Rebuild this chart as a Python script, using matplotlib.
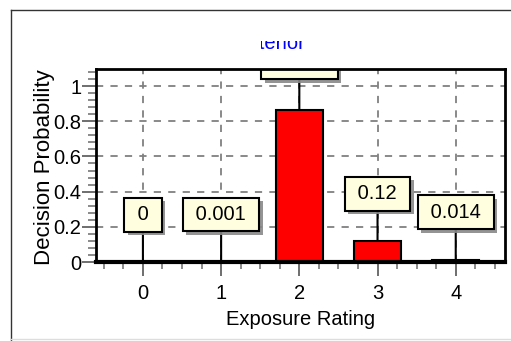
import numpy as np
import matplotlib
matplotlib.use("Agg")
import matplotlib.pyplot as plt
import matplotlib.patheffects as pe
from matplotlib.patches import Rectangle
from matplotlib.lines import Line2D

plt.rcParams["font.family"] = ["Liberation Sans", "DejaVu Sans"]

ratings = [0, 1, 2, 3, 4]
probs = [0.0, 0.001, 0.865, 0.12, 0.014]
prob_labels = ["0", "0.001", "0.865", "0.12", "0.014"]
ytick_vals = [0, 0.2, 0.4, 0.6, 0.8, 1.0]
ytick_labels = ["0", "0.2", "0.4", "0.6", "0.8", "1"]
title = "Posterior"

W, H = 511, 341
fig = plt.figure(figsize=(W / 100, H / 100), dpi=100)
ax = fig.add_axes([96 / W, (H - 262) / H, 409 / W, 193 / H])

# Bars (near-zero bars only show their red fill line)
edges = ["red" if p < 0.005 else "black" for p in probs]
ax.bar(ratings, probs, width=0.6, color="#ff0000", edgecolor=edges,
       linewidth=1.5, zorder=3)

# Value call-outs with a leader line and drop shadow
for x, p, lab in zip(ratings, probs, prob_labels):
    t = ax.annotate(" " + lab + " ", xy=(x, p), xytext=(x, p + 0.215),
                    ha="center", va="bottom", fontsize=14.5, zorder=5,
                    bbox=dict(boxstyle="square,pad=0.37", fc="#ffffe0",
                              ec="black", lw=1.5),
                    arrowprops=dict(arrowstyle="-", color="black", lw=1.5,
                                    shrinkA=0, shrinkB=0))
    t.set_clip_on(True)
    t.set_clip_box(ax.bbox)
    t.get_bbox_patch().set_path_effects(
        [pe.SimplePatchShadow(offset=(2.5, -2.5), shadow_rgbFace="#888888",
                              alpha=0.9), pe.Normal()])

ax.set_xlim(-0.6, 4.63)
ax.set_ylim(0, 1.097)
ax.set_xticks(ratings)
ax.set_xticks(np.arange(-0.5, 4.6, 0.25), minor=True)
ax.set_yticks(ytick_vals)
ax.set_yticklabels(ytick_labels)
ax.set_yticks(np.arange(0, 1.1, 0.04), minor=True)

ax.tick_params(axis="both", which="major", labelsize=14.5, length=10,
               width=1.2, color="#555555", direction="out")
ax.tick_params(axis="y", which="major", pad=0.5)
ax.tick_params(axis="x", which="major", pad=6)
ax.tick_params(axis="y", which="minor", length=6, width=1.2, color="#777777")
ax.tick_params(axis="x", which="minor", length=5, width=1.2, color="#777777")

ax.grid(True, which="major", color="#808080", linestyle=(0, (4, 4)),
        linewidth=1.3, zorder=0)
ax.set_axisbelow(True)
for s in ax.spines.values():
    s.set_linewidth(2)
    s.set_zorder(6)
ax.spines["bottom"].set_linewidth(3)

ax.set_xlabel("Exposure Rating", fontsize=14.5, labelpad=5)
ax.set_ylabel("Decision Probability", fontsize=16)
ax.yaxis.set_label_coords(-41 / 409, 0.49)

# Partly hidden title
tt = fig.text(265 / W, (H - 49) / H, title, color="#0000ff", fontsize=14.5,
              ha="center", va="baseline")
clip = Rectangle((261 / W, (H - 51) / H), 60 / W, 10.5 / H,
                 transform=fig.transFigure)
tt.set_clip_path(clip)

# Outer frame
fig.add_artist(Line2D([10.5 / W, 10.5 / W], [0, (H - 9.5) / H],
                      transform=fig.transFigure, color="#333333", lw=1))
fig.add_artist(Line2D([10.5 / W, 1], [(H - 9.5) / H, (H - 9.5) / H],
                      transform=fig.transFigure, color="#333333", lw=1))
fig.add_artist(Line2D([10.5 / W, 1], [2.5 / H, 2.5 / H],
                      transform=fig.transFigure, color="#dddddd", lw=1))

fig.savefig("out.png", dpi=100)
